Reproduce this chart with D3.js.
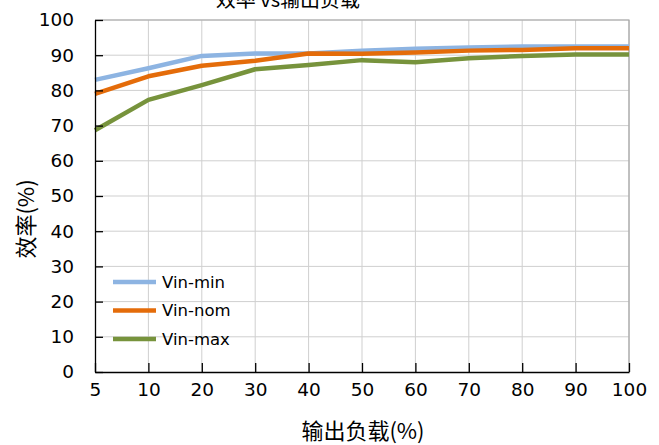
<!DOCTYPE html>
<html><head><meta charset="utf-8">
<script src="https://cdn.jsdelivr.net/npm/d3@7"></script>
<style>
body{margin:0;background:#fff;}
svg{display:block;}
text{font-family:"DejaVu Sans","Noto Sans CJK SC",sans-serif;fill:#000;}
.cjk{font-family:"Noto Sans CJK SC",sans-serif;}
</style></head>
<body><svg id="c" width="659" height="445"></svg>
<script>
const categories = ["5","10","20","30","40","50","60","70","80","90","100"];
const vinMin = [83, 86.3, 89.8, 90.5, 90.5, 91.3, 91.8, 92.2, 92.5, 92.5, 92.5];
const vinNom = [79, 84, 87, 88.4, 90.5, 90.4, 90.8, 91.3, 91.5, 92, 92];
const vinMax = [68.7, 77.3, 81.5, 86, 87.2, 88.6, 88, 89.1, 89.8, 90.2, 90.2];
const yTicks = [0,10,20,30,40,50,60,70,80,90,100];
const seriesNames = ["Vin-min","Vin-nom","Vin-max"];
const seriesColors = ["#8DB4E2","#E46C0A","#77933C"];
const title = "效率 vs输出负载";
const xTitle = "输出负载(%)";
const yTitle = "效率(%)";

const series = [vinMin, vinNom, vinMax];
const svg = d3.select("#c");
const L = 95, R = 629, T = 20, B = 372;
const x = d3.scalePoint().domain(categories).range([L, R]);
const y = d3.scaleLinear().domain([0, 100]).range([B, T]);

// grid
const g = svg.append("g");
g.selectAll(".gx").data(categories.slice(1)).enter().append("line")
  .attr("x1", d => x(d)).attr("x2", d => x(d)).attr("y1", T).attr("y2", B)
  .attr("stroke", "#cfcfcf").attr("stroke-width", 1);
g.selectAll(".gy").data(yTicks.slice(1)).enter().append("line")
  .attr("x1", L).attr("x2", R).attr("y1", d => y(d)).attr("y2", d => y(d))
  .attr("stroke", "#cfcfcf").attr("stroke-width", 1);
// top/right border
g.append("path").attr("d", `M${L},${y(100)}H${R}V${B}`).attr("fill","none").attr("stroke","#a6a6a6").attr("stroke-width",1.2);

// lines
const line = d3.line().x((d,i) => x(categories[i])).y(d => y(d));
series.forEach((s, k) => {
  svg.append("path").datum(s).attr("d", line)
    .attr("fill","none").attr("stroke", seriesColors[k]).attr("stroke-width", 4.5)
    .attr("stroke-linejoin","round");
});

// axes
const ax = svg.append("g").attr("transform", `translate(0,${B})`)
  .call(d3.axisBottom(x).tickSizeInner(-9).tickSizeOuter(0).tickPadding(11));
const ay = svg.append("g").attr("transform", `translate(${L},0)`)
  .call(d3.axisLeft(y).tickValues(yTicks).tickSizeInner(-8).tickSizeOuter(0).tickPadding(21));
[ax, ay].forEach(a => {
  a.selectAll("path,line").attr("stroke","#000").attr("stroke-width",1.3);
  a.selectAll("text").attr("font-size", 18.5).attr("font-family","DejaVu Sans, sans-serif").attr("fill","#000");
});

// legend
seriesNames.forEach((n, k) => {
  const ly = 282 + k * 28.5;
  svg.append("line").attr("x1", 113).attr("x2", 156).attr("y1", ly).attr("y2", ly)
    .attr("stroke", seriesColors[k]).attr("stroke-width", 4.5);
  svg.append("text").attr("x", 162).attr("y", ly).attr("dy", "0.35em")
    .attr("font-size", 16.5).text(n);
});

// titles
svg.append("text").attr("class","cjk").attr("x", 288).attr("y", 7).attr("text-anchor","middle")
  .attr("font-size", 20).text(title);
svg.append("text").attr("class","cjk").attr("x", 363).attr("y", 439).attr("text-anchor","middle")
  .attr("font-size", 22).text(xTitle);
svg.append("text").attr("class","cjk").attr("transform","translate(34,219) rotate(-90)")
  .attr("text-anchor","middle").attr("font-size", 22).text(yTitle);
</script></body></html>
